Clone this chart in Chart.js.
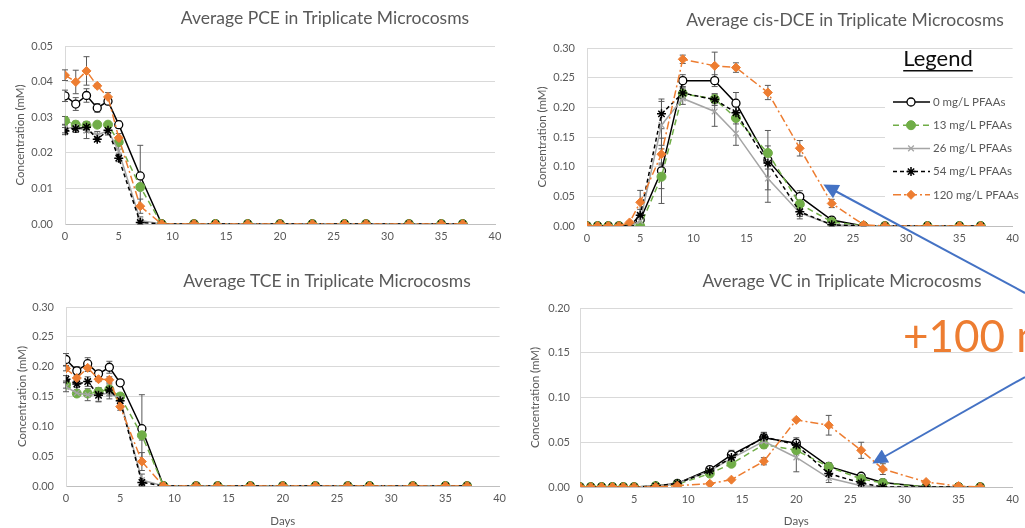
<!DOCTYPE html>
<html>
<head>
<meta charset="utf-8">
<script src="https://cdn.jsdelivr.net/npm/chart.js@4.4.1/dist/chart.umd.min.js"></script>
<style>
  body { margin: 0; width: 1025px; height: 528px; overflow: hidden; background: #fff; position: relative; }
  canvas, svg { position: absolute; }
</style>
</head>
<body>
<canvas id="pce"></canvas>
<canvas id="dce"></canvas>
<canvas id="tce"></canvas>
<canvas id="vc"></canvas>
<svg width="1025" height="528" style="left:0;top:0">
  <defs>
    <marker id="tip" viewBox="0 0 10 10" refX="8" refY="5" markerWidth="8.5" markerHeight="7.5" orient="auto">
      <path d="M0,0 L10,5 L0,10 z" fill="#4472C4"/>
    </marker>
  </defs>
  <line x1="1025" y1="293" x2="826" y2="186" stroke="#4472C4" stroke-width="2" marker-end="url(#tip)"/>
  <line x1="1025" y1="377" x2="875" y2="462" stroke="#4472C4" stroke-width="2" marker-end="url(#tip)"/>
  <text x="903" y="352" font-family="Lato, sans-serif" font-size="44" fill="#ED7D31">+100 m</text>
</svg>
<script>
const days = [0, 1, 2, 3, 4, 5, 7, 9, 12, 14, 17, 20, 23, 26, 28, 32, 35, 37];
const seriesLabels = ['0 mg/L PFAAs', '13 mg/L PFAAs', '26 mg/L PFAAs', '54 mg/L PFAAs', '120 mg/L PFAAs'];
const xTicks = [0, 5, 10, 15, 20, 25, 30, 35, 40];

// PCE (mM)
const pce0   = [0.0360, 0.0337, 0.0361, 0.0326, 0.0345, 0.0279, 0.0135, 0, 0, 0, 0, 0, 0, 0, 0, 0, 0, 0];
const pce13  = [0.0290, 0.0279, 0.0277, 0.0279, 0.0279, 0.0230, 0.0104, 0, 0, 0, 0, 0, 0, 0, 0, 0, 0, 0];
const pce26  = [0.0268, 0.0272, 0.0262, 0.0250, 0.0262, 0.0205, 0.0010, 0, 0, 0, 0, 0, 0, 0, 0, 0, 0, 0];
const pce54  = [0.0261, 0.0268, 0.0272, 0.0238, 0.0263, 0.0185, 0.0004, 0, 0, 0, 0, 0, 0, 0, 0, 0, 0, 0];
const pce120 = [0.0418, 0.0399, 0.0430, 0.0388, 0.0357, 0.0242, 0.0050, 0, 0, 0, 0, 0, 0, 0, 0, 0, 0, 0];
const pce0Err   = [0.0016, 0.0018, 0.0019, 0.0012, 0.0010, 0.0010, 0.0086, 0, 0, 0, 0, 0, 0, 0, 0, 0, 0, 0];
const pce13Err  = [0.0012, 0.0010, 0.0010, 0.0008, 0.0008, 0.0010, 0.0010, 0, 0, 0, 0, 0, 0, 0, 0, 0, 0, 0];
const pce26Err  = [0.0012, 0.0015, 0.0022, 0.0010, 0.0012, 0.0015, 0.0010, 0, 0, 0, 0, 0, 0, 0, 0, 0, 0, 0];
const pce54Err  = [0.0010, 0.0010, 0.0015, 0.0006, 0.0010, 0.0010, 0.0004, 0, 0, 0, 0, 0, 0, 0, 0, 0, 0, 0];
const pce120Err = [0.0015, 0.0033, 0.0040, 0.0005, 0.0012, 0.0012, 0.0020, 0, 0, 0, 0, 0, 0, 0, 0, 0, 0, 0];

// cis-DCE (mM)
const dce0   = [0, 0, 0, 0, 0, 0.010, 0.093, 0.245, 0.245, 0.207, 0.111, 0.0495, 0.010, 0, 0, 0, 0, 0];
const dce13  = [0, 0, 0, 0, 0, 0, 0.083, 0.223, 0.214, 0.182, 0.123, 0.037, 0.007, 0, 0, 0, 0, 0];
const dce26  = [0, 0, 0, 0, 0, 0.008, 0.170, 0.215, 0.193, 0.156, 0.080, 0.022, 0.002, 0, 0, 0, 0, 0];
const dce54  = [0, 0, 0, 0, 0, 0.018, 0.189, 0.224, 0.213, 0.191, 0.106, 0.024, 0.002, 0, 0, 0, 0, 0];
const dce120 = [0, 0, 0, 0, 0.006, 0.040, 0.121, 0.281, 0.270, 0.267, 0.225, 0.131, 0.038, 0.002, 0, 0, 0, 0];
const dce0Err   = [0, 0, 0, 0, 0, 0.005, 0.055, 0.010, 0.010, 0.018, 0.050, 0.010, 0.004, 0, 0, 0, 0, 0];
const dce13Err  = [0, 0, 0, 0, 0, 0, 0.020, 0.008, 0.008, 0.010, 0.012, 0.008, 0.003, 0, 0, 0, 0, 0];
const dce26Err  = [0, 0, 0, 0, 0, 0.003, 0.040, 0.010, 0.025, 0.020, 0.040, 0.010, 0.002, 0, 0, 0, 0, 0];
const dce54Err  = [0, 0, 0, 0, 0, 0.010, 0.025, 0.010, 0.010, 0.010, 0.010, 0.008, 0.002, 0, 0, 0, 0, 0];
const dce120Err = [0, 0, 0, 0, 0.002, 0.020, 0.015, 0.007, 0.023, 0.008, 0.012, 0.013, 0.007, 0.002, 0, 0, 0, 0];

// TCE (mM)
const tce0   = [0.212, 0.193, 0.205, 0.188, 0.199, 0.173, 0.096, 0, 0, 0, 0, 0, 0, 0, 0, 0, 0, 0];
const tce13  = [0.170, 0.155, 0.155, 0.158, 0.162, 0.150, 0.085, 0, 0, 0, 0, 0, 0, 0, 0, 0, 0, 0];
const tce26  = [0.166, 0.156, 0.153, 0.153, 0.156, 0.146, 0.010, 0, 0, 0, 0, 0, 0, 0, 0, 0, 0, 0];
const tce54  = [0.179, 0.171, 0.175, 0.152, 0.161, 0.143, 0.006, 0, 0, 0, 0, 0, 0, 0, 0, 0, 0, 0];
const tce120 = [0.197, 0.181, 0.198, 0.179, 0.178, 0.133, 0.041, 0, 0, 0, 0, 0, 0, 0, 0, 0, 0, 0];
const tce0Err   = [0.010, 0.007, 0.010, 0.005, 0.010, 0.004, 0.057, 0, 0, 0, 0, 0, 0, 0, 0, 0, 0, 0];
const tce13Err  = [0.006, 0.004, 0.004, 0.006, 0.005, 0.005, 0.008, 0, 0, 0, 0, 0, 0, 0, 0, 0, 0, 0];
const tce26Err  = [0.008, 0.005, 0.010, 0.012, 0.010, 0.008, 0.010, 0, 0, 0, 0, 0, 0, 0, 0, 0, 0, 0];
const tce54Err  = [0.006, 0.006, 0.008, 0.010, 0.010, 0.010, 0.005, 0, 0, 0, 0, 0, 0, 0, 0, 0, 0, 0];
const tce120Err = [0.004, 0.004, 0.006, 0.004, 0.005, 0.006, 0.015, 0, 0, 0, 0, 0, 0, 0, 0, 0, 0, 0];

// VC (mM)
const vc0   = [0, 0, 0, 0, 0, 0, 0.001, 0.004, 0.0195, 0.036, 0.055, 0.049, 0.023, 0.012, 0.005, 0, 0, 0];
const vc13  = [0, 0, 0, 0, 0, 0, 0.001, 0.003, 0.015, 0.026, 0.0475, 0.041, 0.0225, 0.009, 0.0045, 0, 0, 0];
const vc26  = [0, 0, 0, 0, 0, 0, 0.001, 0.004, 0.018, 0.032, 0.051, 0.033, 0.010, 0.0015, 0, 0, 0, 0];
const vc54  = [0, 0, 0, 0, 0, 0, 0.001, 0.004, 0.018, 0.033, 0.056, 0.047, 0.015, 0.0045, 0, 0, 0, 0];
const vc120 = [0, 0, 0, 0, 0, 0, 0, 0.0015, 0.0037, 0.0082, 0.0288, 0.075, 0.069, 0.041, 0.020, 0.0056, 0.001, 0];
const vc0Err   = [0, 0, 0, 0, 0, 0, 0, 0.001, 0.003, 0.005, 0.006, 0.006, 0.004, 0.002, 0.001, 0, 0, 0];
const vc13Err  = [0, 0, 0, 0, 0, 0, 0, 0.001, 0.003, 0.003, 0.004, 0.004, 0.003, 0.002, 0.001, 0, 0, 0];
const vc26Err  = [0, 0, 0, 0, 0, 0, 0, 0.001, 0.004, 0.004, 0.005, 0.016, 0.005, 0.001, 0, 0, 0, 0];
const vc54Err  = [0, 0, 0, 0, 0, 0, 0, 0.001, 0.003, 0.004, 0.005, 0.005, 0.003, 0.001, 0, 0, 0, 0];
const vc120Err = [0, 0, 0, 0, 0, 0, 0, 0, 0.001, 0.001, 0.004, 0.001, 0.011, 0.009, 0.006, 0.001, 0, 0];

// per-series look, same order as seriesLabels
const seriesStyles = [
  { borderColor: '#000000', borderDash: [], pointStyle: 'circle', pointRadius: 4, pointBackgroundColor: '#ffffff', pointBorderColor: '#000000', pointBorderWidth: 1.3 },
  { borderColor: '#70AD47', borderDash: [6, 4], pointStyle: 'circle', pointRadius: 4.5, pointBackgroundColor: '#70AD47', pointBorderColor: '#70AD47', pointBorderWidth: 1 },
  { borderColor: '#A5A5A5', borderDash: [], pointStyle: 'crossRot', pointRadius: 4, pointBackgroundColor: '#A5A5A5', pointBorderColor: '#A5A5A5', pointBorderWidth: 1.3 },
  { borderColor: '#000000', borderDash: [4, 3], pointStyle: 'star', pointRadius: 4.5, pointBackgroundColor: '#000000', pointBorderColor: '#000000', pointBorderWidth: 1.5 },
  { borderColor: '#ED7D31', borderDash: [8, 3, 2, 3], pointStyle: 'rectRot', pointRadius: 4.5, pointBackgroundColor: '#ED7D31', pointBorderColor: '#ED7D31', pointBorderWidth: 1 }
];

Chart.defaults.font.family = "Lato, 'Open Sans', sans-serif";
Chart.defaults.color = '#595959';

// title placed at a page position (Excel centres it over its own chart area)
const panelTitle = {
  id: 'panelTitle',
  afterDraw(chart, args, opts) {
    const ctx = chart.ctx;
    ctx.save();
    ctx.font = "17.5px Lato, sans-serif";
    ctx.fillStyle = '#595959';
    ctx.textAlign = 'center';
    ctx.textBaseline = 'middle';
    ctx.fillText(opts.text, opts.x, opts.y);
    ctx.restore();
  }
};

const errorBars = {
  id: 'errorBars',
  beforeDatasetsDraw(chart) {
    const ctx = chart.ctx;
    const xs = chart.scales.x, ys = chart.scales.y;
    ctx.save();
    ctx.strokeStyle = '#595959';
    ctx.lineWidth = 1;
    chart.data.datasets.forEach(ds => {
      ds.data.forEach((p, i) => {
        const e = ds.errors[i];
        if (!e) return;
        const x = xs.getPixelForValue(p.x);
        const top = ys.getPixelForValue(p.y + e);
        const bot = ys.getPixelForValue(Math.max(0, p.y - e));
        ctx.beginPath();
        ctx.moveTo(x, top); ctx.lineTo(x, bot);
        ctx.moveTo(x - 3, top); ctx.lineTo(x + 3, top);
        ctx.moveTo(x - 3, bot); ctx.lineTo(x + 3, bot);
        ctx.stroke();
      });
    });
    ctx.restore();
  }
};

// boxed legend drawn inside the cis-DCE plot
const boxLegend = {
  id: 'boxLegend',
  afterDraw(chart, args, opts) {
    if (!opts.show) return;
    const ctx = chart.ctx;
    const { left, top } = opts;
    ctx.save();
    ctx.fillStyle = '#ffffff';
    ctx.fillRect(left, top, 130, 122);
    ctx.fillStyle = '#0d0d0d';
    ctx.font = "22px Lato, sans-serif";
    ctx.textAlign = 'center';
    ctx.textBaseline = 'alphabetic';
    ctx.fillText('Legend', left + 53, top - 22);
    const w = ctx.measureText('Legend').width;
    ctx.fillRect(left + 53 - w / 2, top - 18, w, 1.5);
    ctx.font = "11.5px Lato, sans-serif";
    ctx.textAlign = 'left';
    ctx.textBaseline = 'middle';
    chart.data.datasets.forEach((ds, i) => {
      const y = top + 14 + i * 23.2;
      ctx.strokeStyle = ds.borderColor;
      ctx.lineWidth = 1.5;
      ctx.setLineDash(ds.borderDash);
      ctx.beginPath();
      ctx.moveTo(left + 8, y); ctx.lineTo(left + 45, y);
      ctx.stroke();
      ctx.setLineDash([]);
      ctx.fillStyle = ds.pointBackgroundColor;
      ctx.strokeStyle = ds.pointBorderColor;
      ctx.lineWidth = ds.pointBorderWidth;
      Chart.helpers.drawPoint(ctx, { pointStyle: ds.pointStyle, radius: ds.pointRadius, borderWidth: ds.pointBorderWidth, rotation: 0 }, left + 26, y);
      ctx.fillStyle = '#595959';
      ctx.fillText(ds.label, left + 48, y);
    });
    ctx.restore();
  }
};

function panel(cfg) {
  const [L, T, W, H] = cfg.box;
  const [x0, y0, x1, y1] = cfg.plot;
  const canvas = document.getElementById(cfg.id);
  canvas.width = W;
  canvas.height = H;
  canvas.style.left = L + 'px';
  canvas.style.top = T + 'px';

  const datasets = cfg.values.map((vals, i) => ({
    label: seriesLabels[i],
    data: days.map((d, j) => ({ x: d, y: vals[j] })),
    errors: cfg.errors[i],
    borderWidth: 1.5,
    order: 4 - i,
    ...seriesStyles[i]
  }));

  return new Chart(canvas, {
    type: 'line',
    data: { datasets },
    options: {
      responsive: false,
      animation: false,
      layout: { padding: { left: 0, top: y0 - T, right: L + W - x1, bottom: 0 } },
      plugins: {
        legend: { display: false },
        tooltip: { enabled: false },
        panelTitle: { text: cfg.title, x: cfg.titleAt[0] - L, y: cfg.titleAt[1] - T },
        boxLegend: { show: !!cfg.legendAt, left: cfg.legendAt ? cfg.legendAt[0] - L : 0, top: cfg.legendAt ? cfg.legendAt[1] - T : 0 }
      },
      scales: {
        x: {
          type: 'linear', min: 0, max: 40,
          afterBuildTicks: s => { s.ticks = xTicks.map(v => ({ value: v })); },
          ticks: { padding: 6, font: { size: 11 } },
          grid: { display: false, drawTicks: false },
          border: { display: true, color: '#BFBFBF' },
          title: { display: cfg.days, text: 'Days', padding: 0, font: { size: 11.5 } },
          afterFit: s => { s.height = T + H - y1; }
        },
        y: {
          min: 0, max: cfg.yMax,
          afterBuildTicks: s => { s.ticks = cfg.yTicks.map(v => ({ value: v })); },
          ticks: { padding: cfg.tickPad, font: { size: 11 }, callback: v => v.toFixed(2) },
          grid: { color: '#D9D9D9', drawTicks: false },
          border: { display: true, color: '#D9D9D9' },
          title: { display: true, text: 'Concentration (mM)', padding: { top: cfg.yTitlePad, bottom: 0 }, font: { size: 11.5 } },
          afterFit: s => { s.width = x0 - L; }
        }
      }
    },
    plugins: [panelTitle, errorBars, boxLegend]
  });
}

panel({
  id: 'pce', title: 'Average PCE in Triplicate Microcosms', titleAt: [325, 18],
  box: [0, 0, 512, 262], plot: [65, 46, 495, 224],
  yMax: 0.05, yTicks: [0, 0.01, 0.02, 0.03, 0.04, 0.05], tickPad: 12, yTitlePad: 13, days: false,
  values: [pce0, pce13, pce26, pce54, pce120],
  errors: [pce0Err, pce13Err, pce26Err, pce54Err, pce120Err]
});

panel({
  id: 'dce', title: 'Average cis-DCE in Triplicate Microcosms', titleAt: [845, 20],
  box: [522, 0, 503, 264], plot: [587, 48, 1017, 226],
  yMax: 0.30, yTicks: [0, 0.05, 0.10, 0.15, 0.20, 0.25, 0.30], tickPad: 12, yTitlePad: 13.5, days: false,
  values: [dce0, dce13, dce26, dce54, dce120],
  errors: [dce0Err, dce13Err, dce26Err, dce54Err, dce120Err],
  legendAt: [885, 88]
});

panel({
  id: 'tce', title: 'Average TCE in Triplicate Microcosms', titleAt: [327, 281],
  box: [0, 265, 512, 263], plot: [66, 307, 501, 486],
  yMax: 0.30, yTicks: [0, 0.05, 0.10, 0.15, 0.20, 0.25, 0.30], tickPad: 12, yTitlePad: 15.5, days: true,
  values: [tce0, tce13, tce26, tce54, tce120],
  errors: [tce0Err, tce13Err, tce26Err, tce54Err, tce120Err]
});

panel({
  id: 'vc', title: 'Average VC in Triplicate Microcosms', titleAt: [842, 281],
  box: [520, 265, 505, 263], plot: [580, 308, 1014, 487],
  yMax: 0.20, yTicks: [0, 0.05, 0.10, 0.15, 0.20], tickPad: 10, yTitlePad: 8.5, days: true,
  values: [vc0, vc13, vc26, vc54, vc120],
  errors: [vc0Err, vc13Err, vc26Err, vc54Err, vc120Err]
});
</script>
</body>
</html>
